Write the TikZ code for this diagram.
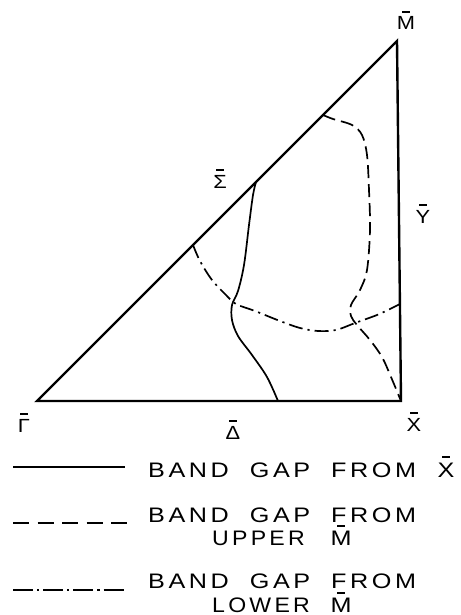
\documentclass[tikz,border=0pt]{standalone}
\usepackage{fontspec}
\setmainfont{Liberation Sans}
\newfontfamily\legfont[LetterSpace=14,WordSpace=2]{Liberation Sans}
\newfontfamily\labfont{Liberation Sans}
\newcommand\overbarof[2]{\draw[barline] ([xshift=-4pt,yshift=#2]#1.north) -- ([xshift=4pt,yshift=#2]#1.north);}
\tikzset{
  tri/.style={line width=2.4pt, line join=miter},
  gapx/.style={line width=1.7pt},
  gapup/.style={line width=1.7pt, dash pattern=on 13pt off 6pt},
  gaplow/.style={line width=1.7pt, dash pattern=on 14pt off 5pt on 2.2pt off 5pt},
  barline/.style={line width=2pt},
  lab/.style={inner sep=0pt, anchor=base, xscale=1.15, font=\labfont\fontsize{19}{19}\selectfont},
  leg/.style={inner sep=0pt, anchor=base west, xscale=1.2, font=\legfont\fontsize{21}{21}\selectfont},
  legl/.style={inner sep=0pt, anchor=base, xscale=1.2, font=\labfont\fontsize{21}{21}\selectfont},
}
\begin{document}
\begin{tikzpicture}[x=1pt,y=-1pt]
\useasboundingbox (0,0) rectangle (460,615);
\coordinate (G) at (37,401);
\coordinate (X) at (401,401);
\coordinate (M) at (397,41);
\draw[tri] (G) -- (X) -- (M) -- cycle;
% labels
\node[lab] (lM) at (406,30) {M};
\node[lab] (lS) at (220,188) {Σ};
\node[lab] (lY) at (423,223) {Y};
\node[lab] (lG) at (24,432) {Γ};
\node[lab] (lD) at (233,439) {Δ};
\node[lab] (lX) at (414,431) {X};
\foreach \n in {lM,lS,lY,lG,lD,lX} {\overbarof{\n}{5pt}}
% band gap curves
\draw[gapx] plot[smooth, tension=0.55] coordinates {(256,182) (253,195) (249,225) (244,265) (238,291) (232,305) (232,320) (238,336) (252,355) (267,377) (278,401)};
\draw[gapup] plot[smooth, tension=0.55] coordinates {(323,115) (333,119) (352,125) (362,135) (367,155) (369,190) (370,230) (367,270) (360,290) (351,305) (351,316) (357,325) (370,340) (382,357) (391,377) (401,401)};
\draw[gaplow] plot[smooth, tension=0.55] coordinates {(193,245) (200,261) (212,280) (226,295) (236,304) (255,311) (280,321) (300,328) (318,331) (336,330) (355,323) (377,315) (390,309) (400,304)};
% legend
\coordinate (l1a) at (13,467); \coordinate (l1b) at (125,467);
\coordinate (l2a) at (13,523); \coordinate (l2b) at (127,523);
\coordinate (l3a) at (13,590); \coordinate (l3b) at (127,590);
\draw[gapx] (l1a) -- (l1b);
\draw[line width=1.7pt, dash pattern=on 16pt off 8.5pt] (l2a) -- (l2b);
\draw[line width=1.7pt, dash pattern=on 20pt off 4pt on 2.2pt off 4pt] (l3a) -- (l3b);
\node[leg] (t1) at (148,477) {BAND GAP FROM};
\node[legl] (t1x) at (446,477) {X};
\node[leg] (t2) at (148,522) {BAND GAP FROM};
\node[leg, xscale=1.1/1.2] (t2b) at (212,545) {UPPER};
\node[legl] (t2m) at (341,545) {M};
\node[leg] (t3) at (148,588) {BAND GAP FROM};
\node[leg, xscale=1.1/1.2] (t3b) at (212,612) {LOWER};
\node[legl] (t3m) at (341,612) {M};
\overbarof{t1x}{5pt}
\overbarof{t2m}{4pt}
\overbarof{t3m}{4pt}
\end{tikzpicture}
\end{document}
